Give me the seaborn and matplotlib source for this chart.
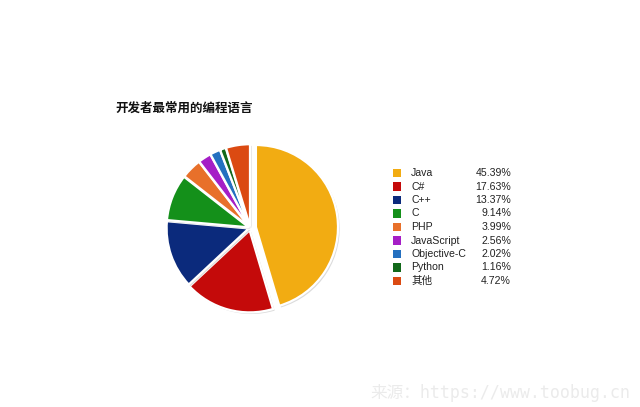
import matplotlib
matplotlib.use("Agg")
import matplotlib.pyplot as plt
import matplotlib.patheffects as pe
import seaborn as sns

languages = ["Java", "C#", "C++", "C", "PHP", "JavaScript", "Objective-C", "Python", "其他"]
shares = [45.39, 17.63, 13.37, 9.14, 3.99, 2.56, 2.02, 1.16, 4.72]
colors = ["#F2AC12", "#C40A0A", "#0B2A7C", "#14901A", "#E8702A",
          "#A51EC6", "#2470C0", "#12691A", "#DB4A12"]
explode = [0.07, 0.03, 0.02, 0.02, 0.02, 0.02, 0.02, 0.02, 0.02]
title = "开发者最常用的编程语言"
source = "来源：https://www.toobug.cn"

sns.set_theme(style="white")
plt.rcParams["font.family"] = ["Liberation Sans", "Noto Sans CJK SC", "DejaVu Sans"]

W, H = 640, 407
fig = plt.figure(figsize=(6.4, 4.07), dpi=100)
fig.patch.set_facecolor("white")

# pie axes
ax = fig.add_axes([0.237, 0.198, 0.308, 0.484])
wedges, _ = ax.pie(shares, colors=colors, startangle=90, counterclock=False,
                   explode=explode, radius=1.0,
                   wedgeprops=dict(edgecolor="white", linewidth=1.6))
for w in wedges:
    w.set_path_effects([pe.SimplePatchShadow(offset=(1.2, -1.2), shadow_rgbFace="#999999", alpha=0.35),
                        pe.Normal()])
ax.set_xlim(-1.2, 1.2)
ax.set_ylim(-1.2, 1.2)
ax.set_aspect("equal")
ax.axis("off")

# legend axes (x in pixel units, y in row units)
n = len(languages)
row_top, row_step = 173.0, 13.5
top_px = row_top - row_step / 2
bot_px = row_top + row_step * (n - 0.5)
lx0, lx1 = 384, 530
lax = fig.add_axes([lx0 / W, (H - bot_px) / H, (lx1 - lx0) / W, (bot_px - top_px) / H])
lax.set_xlim(lx0, lx1)
lax.set_ylim(n - 0.5, -0.5)
lax.axis("off")
for i, (lang, val, c) in enumerate(zip(languages, shares, colors)):
    lax.scatter([397], [i], marker="s", s=34, color=c, edgecolor="none")
    lax.text(411, i, lang, va="center", ha="left", fontsize=7.6,
             family=["Liberation Sans", "Noto Sans CJK SC"], color="#222222")
    lax.text(511, i, f"{val:.2f}%", va="center", ha="right", fontsize=7.6,
             family=["Liberation Sans"], color="#222222")

fig.text(115 / W, 1 - 108 / H, title, fontsize=9, fontweight="bold",
         family=["Noto Sans CJK SC"], color="#111111", va="center", ha="left")
fig.text(370 / W, 1 - 393 / H, source, fontsize=12,
         family=["DejaVu Sans Mono", "Noto Sans CJK SC"], color="#ebebeb",
         va="center", ha="left")

fig.savefig("out.png", dpi=100, facecolor="white")
